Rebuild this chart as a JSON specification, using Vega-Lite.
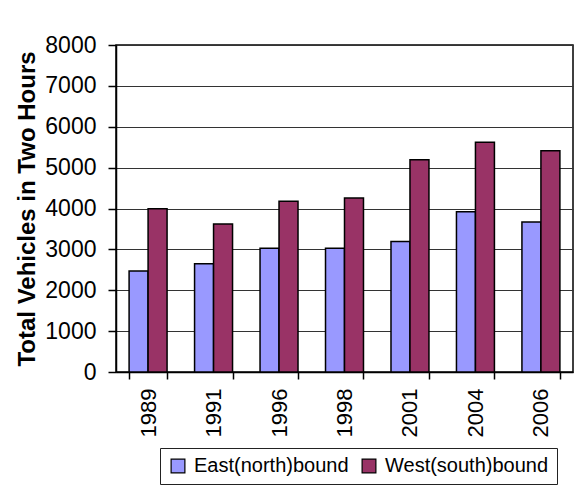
{
  "$schema": "https://vega.github.io/schema/vega-lite/v6.json",
  "width": 457,
  "height": 327,
  "autosize": {"type": "none"},
  "padding": {"left": 116, "top": 45, "right": 12, "bottom": 116},
  "background": "white",
  "data": {
    "values": [
      {"year": "1989", "direction": "East(north)bound", "vehicles": 2470},
      {"year": "1989", "direction": "West(south)bound", "vehicles": 3995},
      {"year": "1991", "direction": "East(north)bound", "vehicles": 2650},
      {"year": "1991", "direction": "West(south)bound", "vehicles": 3620},
      {"year": "1996", "direction": "East(north)bound", "vehicles": 3030},
      {"year": "1996", "direction": "West(south)bound", "vehicles": 4175},
      {"year": "1998", "direction": "East(north)bound", "vehicles": 3030},
      {"year": "1998", "direction": "West(south)bound", "vehicles": 4255},
      {"year": "2001", "direction": "East(north)bound", "vehicles": 3190},
      {"year": "2001", "direction": "West(south)bound", "vehicles": 5190},
      {"year": "2004", "direction": "East(north)bound", "vehicles": 3920},
      {"year": "2004", "direction": "West(south)bound", "vehicles": 5620},
      {"year": "2006", "direction": "East(north)bound", "vehicles": 3670},
      {"year": "2006", "direction": "West(south)bound", "vehicles": 5410}
    ]
  },
  "mark": {"type": "bar", "stroke": "black", "strokeWidth": 1.5},
  "encoding": {
    "x": {
      "field": "year",
      "type": "nominal",
      "scale": {"paddingInner": 0.42, "paddingOuter": 0.2},
      "axis": {
        "title": null,
        "labelAngle": -90,
        "tickBand": "extent",
        "labelFontSize": 22,
        "labelPadding": 9,
        "tickSize": 7,
        "grid": false
      }
    },
    "xOffset": {"field": "direction", "type": "nominal", "sort": ["East(north)bound", "West(south)bound"]},
    "y": {
      "field": "vehicles",
      "type": "quantitative",
      "scale": {"domain": [0, 8000], "nice": false},
      "axis": {
        "title": "Total Vehicles in Two Hours",
        "values": [0, 1000, 2000, 3000, 4000, 5000, 6000, 7000, 8000],
        "format": "d",
        "tickSize": 8,
        "labelPadding": 12,
        "labelFontSize": 23,
        "titleFontSize": 24,
        "titleFontWeight": "bold",
        "titlePadding": 5,
        "grid": true
      }
    },
    "color": {
      "field": "direction",
      "type": "nominal",
      "scale": {"domain": ["East(north)bound", "West(south)bound"], "range": ["#9999FF", "#993366"]},
      "legend": {
        "orient": "none",
        "legendX": 44,
        "legendY": 403,
        "direction": "horizontal",
        "title": null
      }
    }
  },
  "config": {
    "font": "Liberation Sans",
    "view": {"stroke": "black", "strokeWidth": 1.5},
    "axis": {
      "domainColor": "black",
      "domainWidth": 1.5,
      "tickColor": "black",
      "tickWidth": 1.5,
      "labelColor": "black",
      "titleColor": "black",
      "gridColor": "#333333",
      "gridWidth": 1,
      "labelFont": "Liberation Sans",
      "titleFont": "Liberation Sans"
    },
    "legend": {
      "labelFont": "Liberation Sans",
      "labelFontSize": 20,
      "labelColor": "black",
      "labelLimit": 300,
      "symbolType": "square",
      "symbolSize": 190,
      "symbolStrokeColor": "black",
      "symbolStrokeWidth": 1.2,
      "symbolOpacity": 1,
      "strokeColor": "#222222",
      "fillColor": "white",
      "padding": 8,
      "columnPadding": 10,
      "labelOffset": 6
    }
  }
}
